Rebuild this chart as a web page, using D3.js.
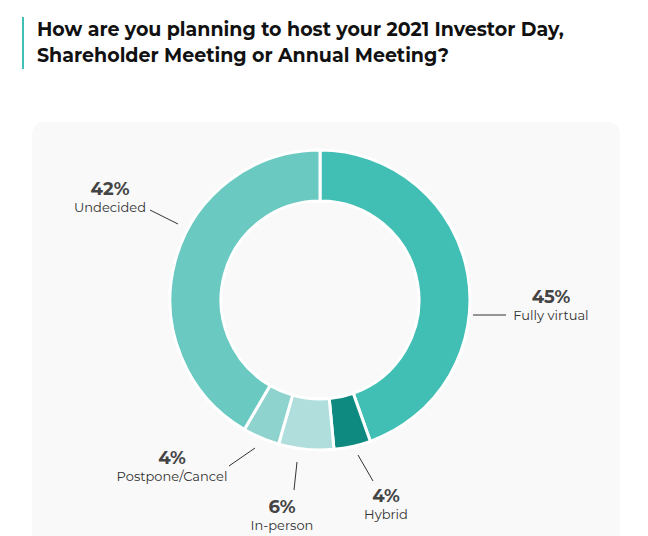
<!DOCTYPE html>
<html><head><meta charset="utf-8">
<script src="https://cdn.jsdelivr.net/npm/d3@7"></script>
<style>body{margin:0;background:#fff;font-family:Montserrat,"Open Sans",sans-serif}</style>
</head><body><svg id="c" width="648" height="536"></svg>
<script>
const categories = ["Fully virtual","Hybrid","In-person","Postpone/Cancel","Undecided"];
const values = [45,4,6,4,42];
const colors = ["#42bfb4","#0e8a80","#b0dedc","#8fd3cf","#6ac9c1"];
// label layout: text anchor point and leader line (x1,y1,x2,y2)
const layout = [
  {x:551,y:303,line:[473,315,506,315]},
  {x:386,y:502,line:[358,455,373,481]},
  {x:282,y:513,line:[297,462,294,490]},
  {x:172,y:464,line:[255,448,229,466]},
  {x:110,y:195,line:[178,224,150,210]}
];
const svg = d3.select("#c");
svg.append("rect").attr("x",22).attr("y",17).attr("width",2).attr("height",52).attr("fill","#42bfb4");
const t = svg.append("text").attr("x",37).attr("font-weight",700).attr("font-size",19).attr("fill","#111");
t.append("tspan").attr("x",37).attr("y",36).text("How are you planning to host your 2021 Investor Day,");
t.append("tspan").attr("x",37).attr("y",62).text("Shareholder Meeting or Annual Meeting?");
svg.append("rect").attr("x",32).attr("y",122).attr("width",588).attr("height",430).attr("rx",12).attr("fill","#f9f9f9");
const g = svg.append("g").attr("transform","translate(320,300)");
const pie = d3.pie().sort(null).value(d=>d);
const arc = d3.arc().innerRadius(99).outerRadius(150);
g.selectAll("path").data(pie(values)).join("path").attr("d",arc)
 .attr("fill",(d,i)=>colors[i]).attr("stroke","#fff").attr("stroke-width",3);
layout.forEach((l,i)=>{
  svg.append("line").attr("x1",l.line[0]).attr("y1",l.line[1]).attr("x2",l.line[2]).attr("y2",l.line[3]).attr("stroke","#333").attr("stroke-width",1);
  svg.append("text").attr("x",l.x).attr("y",l.y).attr("text-anchor","middle").attr("font-weight",700).attr("font-size",18).attr("fill","#444").text(values[i]+"%");
  svg.append("text").attr("x",l.x).attr("y",l.y+17).attr("text-anchor","middle").attr("font-size",13).attr("fill","#333").text(categories[i]);
});
</script></body></html>
